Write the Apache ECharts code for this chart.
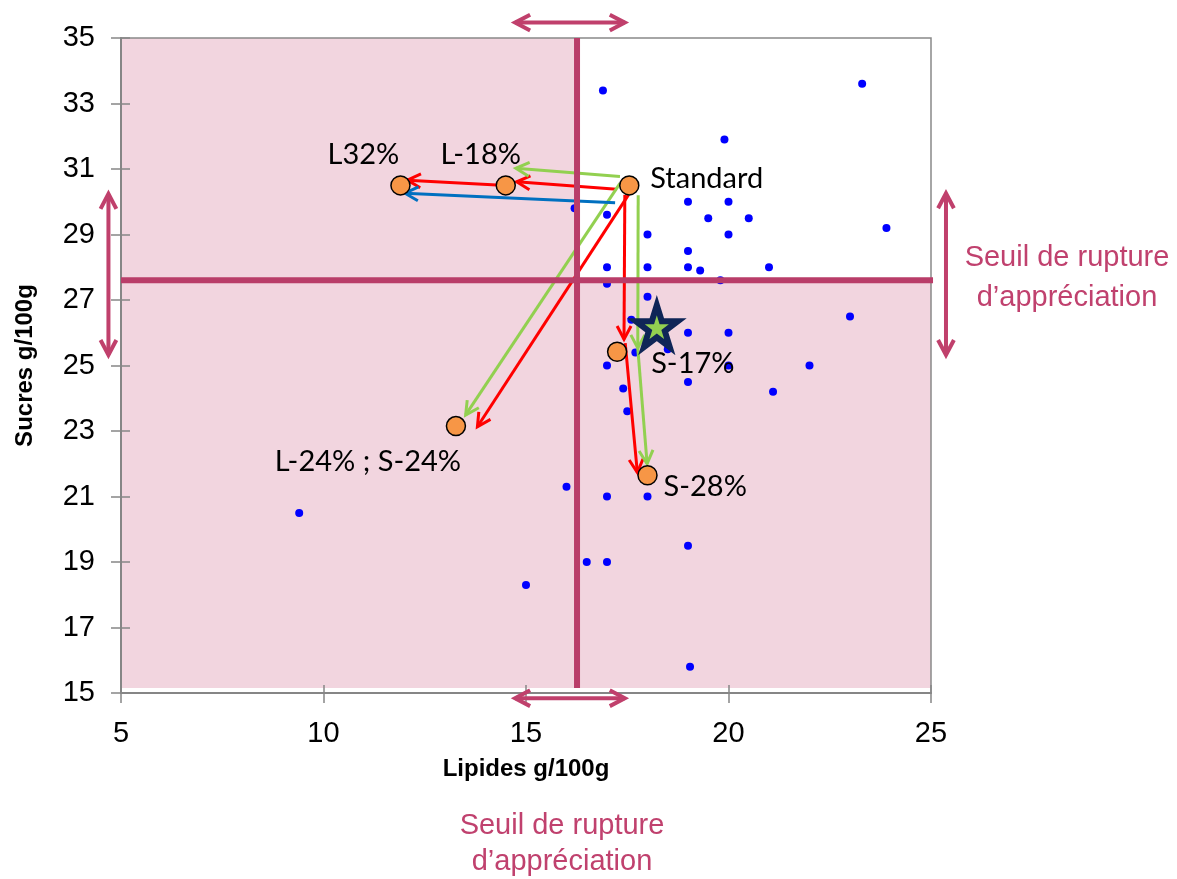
<!DOCTYPE html>
<html>
<head>
<meta charset="utf-8">
<script src="https://cdn.jsdelivr.net/npm/echarts@6/dist/echarts.min.js"></script>
<style>
html, body { margin: 0; padding: 0; background: #fff; }
#chart { width: 1177px; height: 879px; }
</style>
</head>
<body>
<div id="chart"></div>
<script>
// produits du marché (points bleus)
var produitsLipides = [16.9, 23.3, 19.9, 19, 20, 19.5, 20.5, 18, 20, 23.9, 16.2, 17, 19, 17, 18, 19, 19.3, 21, 19.8, 17, 18,
    17.6, 19, 20, 23, 18.5, 17.7, 17, 20, 22, 19, 21.1, 17.4, 17.5, 16, 17, 18, 9.4, 19, 16.5, 17, 15, 19.05];
var produitsSucres = [33.4, 33.6, 31.9, 30, 30, 29.5, 29.5, 29, 29, 29.2, 29.8, 29.6, 28.5, 28, 28, 28, 27.9, 28, 27.6, 27.5, 27.1,
    26.4, 26, 26, 26.5, 25.5, 25.4, 25, 25, 25, 24.5, 24.2, 24.3, 23.6, 21.3, 21, 21, 20.5, 19.5, 19, 19, 18.3, 15.8];

// recettes testées (points orange)
var recettesNoms = ['Standard', 'L-18%', 'L32%', 'L-24% ; S-24%', 'S-17%', 'S-28%'];
var recettesLipides = [17.55, 14.5, 11.9, 13.27, 17.25, 18.0];
var recettesSucres = [30.5, 30.5, 30.5, 23.15, 25.42, 21.65];

// cible (étoile)
var cible = [18.23, 26.2];

// seuils de rupture
var seuilLipides = 16.26;
var seuilSucres = 27.6;
var basZone = 15.15;

// flèches [x1, y1, x2, y2]
var flechesRouges = [
    [17.24, 30.38, 14.77, 30.61],
    [14.28, 30.51, 12.07, 30.66],
    [17.44, 30.21, 17.42, 25.8],
    [17.53, 30.21, 13.8, 23.13],
    [17.45, 25.68, 17.75, 21.73]
];
var flechesVertes = [
    [17.32, 30.77, 14.75, 31.02],
    [17.77, 30.2, 17.76, 25.53],
    [17.76, 25.53, 17.99, 22.0],
    [17.32, 30.56, 13.51, 23.49]
];
var flechesBleues = [
    [17.2, 29.97, 12.01, 30.26]
];
var flechesSeuil = [
    [14.73, 35.47, 17.44, 35.47],
    [14.73, 14.84, 17.44, 14.84],
    [4.69, 30.24, 4.69, 25.32],
    [25.37, 30.26, 25.37, 25.32]
];

// placement des étiquettes
var etiquettes = [
    { align: 'left', offset: [21, -7] },
    { align: 'center', offset: [-25, -31] },
    { align: 'center', offset: [-37, -31] },
    { align: 'center', offset: [-88, 36] },
    { align: 'left', offset: [34, 12] },
    { align: 'left', offset: [16, 11] }
];

var rose = '#f2d5df';
var bordeaux = '#b93d69';
var arial = "'Liberation Sans', Arial, sans-serif";

function pointe(tip, from, color, width, len) {
    var ang = Math.atan2(from[1] - tip[1], from[0] - tip[0]);
    var s = Math.PI / 6.5;
    return {
        type: 'polyline',
        shape: { points: [
            [tip[0] + len * Math.cos(ang + s), tip[1] + len * Math.sin(ang + s)],
            [tip[0], tip[1]],
            [tip[0] + len * Math.cos(ang - s), tip[1] + len * Math.sin(ang - s)]
        ] },
        style: { stroke: color, fill: null, lineWidth: width }
    };
}

function fleche(color, width, len, double) {
    return function (params, api) {
        var a = api.coord([api.value(0), api.value(1)]);
        var b = api.coord([api.value(2), api.value(3)]);
        var children = [{
            type: 'line',
            shape: { x1: a[0], y1: a[1], x2: b[0], y2: b[1] },
            style: { stroke: color, lineWidth: width }
        }, pointe(b, a, color, width, len)];
        if (double) children.push(pointe(a, b, color, width, len));
        return { type: 'group', children: children };
    };
}

function serieFleches(data, color, width, len, double, z) {
    return {
        type: 'custom',
        data: data,
        dimensions: ['x1', 'y1', 'x2', 'y2'],
        encode: { x: [0, 2], y: [1, 3] },
        renderItem: fleche(color, width, len, double),
        silent: true,
        z: z
    };
}

var zones = [
    [5, seuilSucres, seuilLipides, 35],
    [5, basZone, 25, seuilSucres]
];
var lignesSeuil = [
    [seuilLipides, 35, seuilLipides, basZone],
    [5, seuilSucres, 25.05, seuilSucres]
];

var myChart = echarts.init(document.getElementById('chart'));

var axeX = {
    type: 'value', min: 5, max: 25, interval: 5,
    splitLine: { show: false }
};
var axeY = {
    type: 'value', min: 15, max: 35, interval: 2,
    splitLine: { show: false }
};

var option = {
    animation: false,
    backgroundColor: '#fff',
    grid: {
        left: 121, right: 246, top: 38, bottom: 186,
        show: true, borderColor: '#898989', borderWidth: 1.5, z: 3
    },
    xAxis: [
        Object.assign({}, axeX, {
            position: 'bottom', z: 3,
            name: 'Lipides g/100g', nameLocation: 'middle', nameGap: 64,
            nameTextStyle: { fontFamily: arial, fontWeight: 'bold', fontSize: 24, color: '#000' },
            axisLine: { lineStyle: { color: '#868686', width: 2 } },
            axisTick: { inside: false, length: 10, lineStyle: { color: '#868686', width: 1.5 } },
            axisLabel: { fontFamily: arial, fontSize: 29, color: '#000', margin: 26 }
        }),
        Object.assign({}, axeX, {
            position: 'bottom', z: 3,
            axisLine: { show: false },
            axisTick: { inside: true, length: 8, lineStyle: { color: '#868686', width: 1.5 } },
            axisLabel: { show: false }
        })
    ],
    yAxis: [
        Object.assign({}, axeY, {
            position: 'left', z: 3,
            name: 'Sucres g/100g', nameLocation: 'middle', nameGap: 84,
            nameTextStyle: { fontFamily: arial, fontWeight: 'bold', fontSize: 24, color: '#000' },
            axisLine: { lineStyle: { color: '#868686', width: 2 } },
            axisTick: { inside: false, length: 10, lineStyle: { color: '#868686', width: 1.5 } },
            axisLabel: { fontFamily: arial, fontSize: 29, color: '#000', margin: 26 }
        }),
        Object.assign({}, axeY, {
            position: 'left', z: 3,
            axisLine: { show: false },
            axisTick: { inside: true, length: 9, lineStyle: { color: '#868686', width: 1.5 } },
            axisLabel: { show: false }
        })
    ],
    series: [
        {
            type: 'custom',
            data: zones,
            dimensions: ['x1', 'y1', 'x2', 'y2'],
            encode: { x: [0, 2], y: [1, 3] },
            renderItem: function (params, api) {
                var a = api.coord([api.value(0), api.value(3)]);
                var b = api.coord([api.value(2), api.value(1)]);
                return {
                    type: 'rect',
                    shape: { x: a[0], y: a[1], width: b[0] - a[0], height: b[1] - a[1] },
                    style: { fill: rose }
                };
            },
            silent: true,
            z: 1
        },
        {
            type: 'scatter',
            data: produitsLipides.map(function (x, i) { return [x, produitsSucres[i]]; }),
            symbol: 'circle',
            symbolSize: 8,
            itemStyle: { color: '#0000ff', opacity: 1 },
            z: 4
        },
        serieFleches(flechesRouges, '#ff0000', 3, 15, false, 5),
        serieFleches(flechesVertes, '#92d050', 3, 15, false, 5),
        serieFleches(flechesBleues, '#0070c0', 3, 15, false, 5),
        {
            type: 'custom',
            data: lignesSeuil,
            dimensions: ['x1', 'y1', 'x2', 'y2'],
            encode: { x: [0, 2], y: [1, 3] },
            renderItem: function (params, api) {
                var a = api.coord([api.value(0), api.value(1)]);
                var b = api.coord([api.value(2), api.value(3)]);
                return {
                    type: 'line',
                    shape: { x1: a[0], y1: a[1], x2: b[0], y2: b[1] },
                    style: { stroke: bordeaux, lineWidth: 6 }
                };
            },
            silent: true,
            z: 6
        },
        serieFleches(flechesSeuil, '#c0406c', 4, 17, true, 6),
        {
            type: 'scatter',
            data: recettesNoms.map(function (n, i) {
                return {
                    name: n,
                    value: [recettesLipides[i], recettesSucres[i]],
                    label: {
                        show: true, position: 'inside', formatter: '{b}',
                        align: etiquettes[i].align, offset: etiquettes[i].offset,
                        verticalAlign: 'middle',
                        fontFamily: "Lato, 'Noto Sans', sans-serif", fontSize: 29, color: '#000'
                    }
                };
            }),
            symbol: 'circle',
            symbolSize: 19,
            itemStyle: { color: '#f79646', borderColor: '#000', borderWidth: 1.5, opacity: 1 },
            z: 7
        },
        {
            type: 'scatter',
            data: [cible],
            symbol: 'path://M50,0 L61.23,34.55 L97.55,34.55 L68.17,55.9 L79.39,90.45 L50,69.1 L20.61,90.45 L31.83,55.9 L2.45,34.55 L38.77,34.55 Z',
            symbolSize: [42, 42],
            itemStyle: { color: '#92d050', borderColor: '#0f2557', borderWidth: 6, opacity: 1 },
            z: 8
        }
    ],
    graphic: [
        {
            type: 'text', x: 1067, y: 238,
            style: {
                text: 'Seuil de rupture\nd\u2019appréciation', fill: '#c0416e',
                font: '29px ' + arial, align: 'center', verticalAlign: 'top', lineHeight: 40
            }
        },
        {
            type: 'text', x: 562, y: 808,
            style: {
                text: 'Seuil de rupture\nd\u2019appréciation', fill: '#c0416e',
                font: '29px ' + arial, align: 'center', verticalAlign: 'top', lineHeight: 36
            }
        }
    ]
};

myChart.setOption(option);
</script>
</body>
</html>
